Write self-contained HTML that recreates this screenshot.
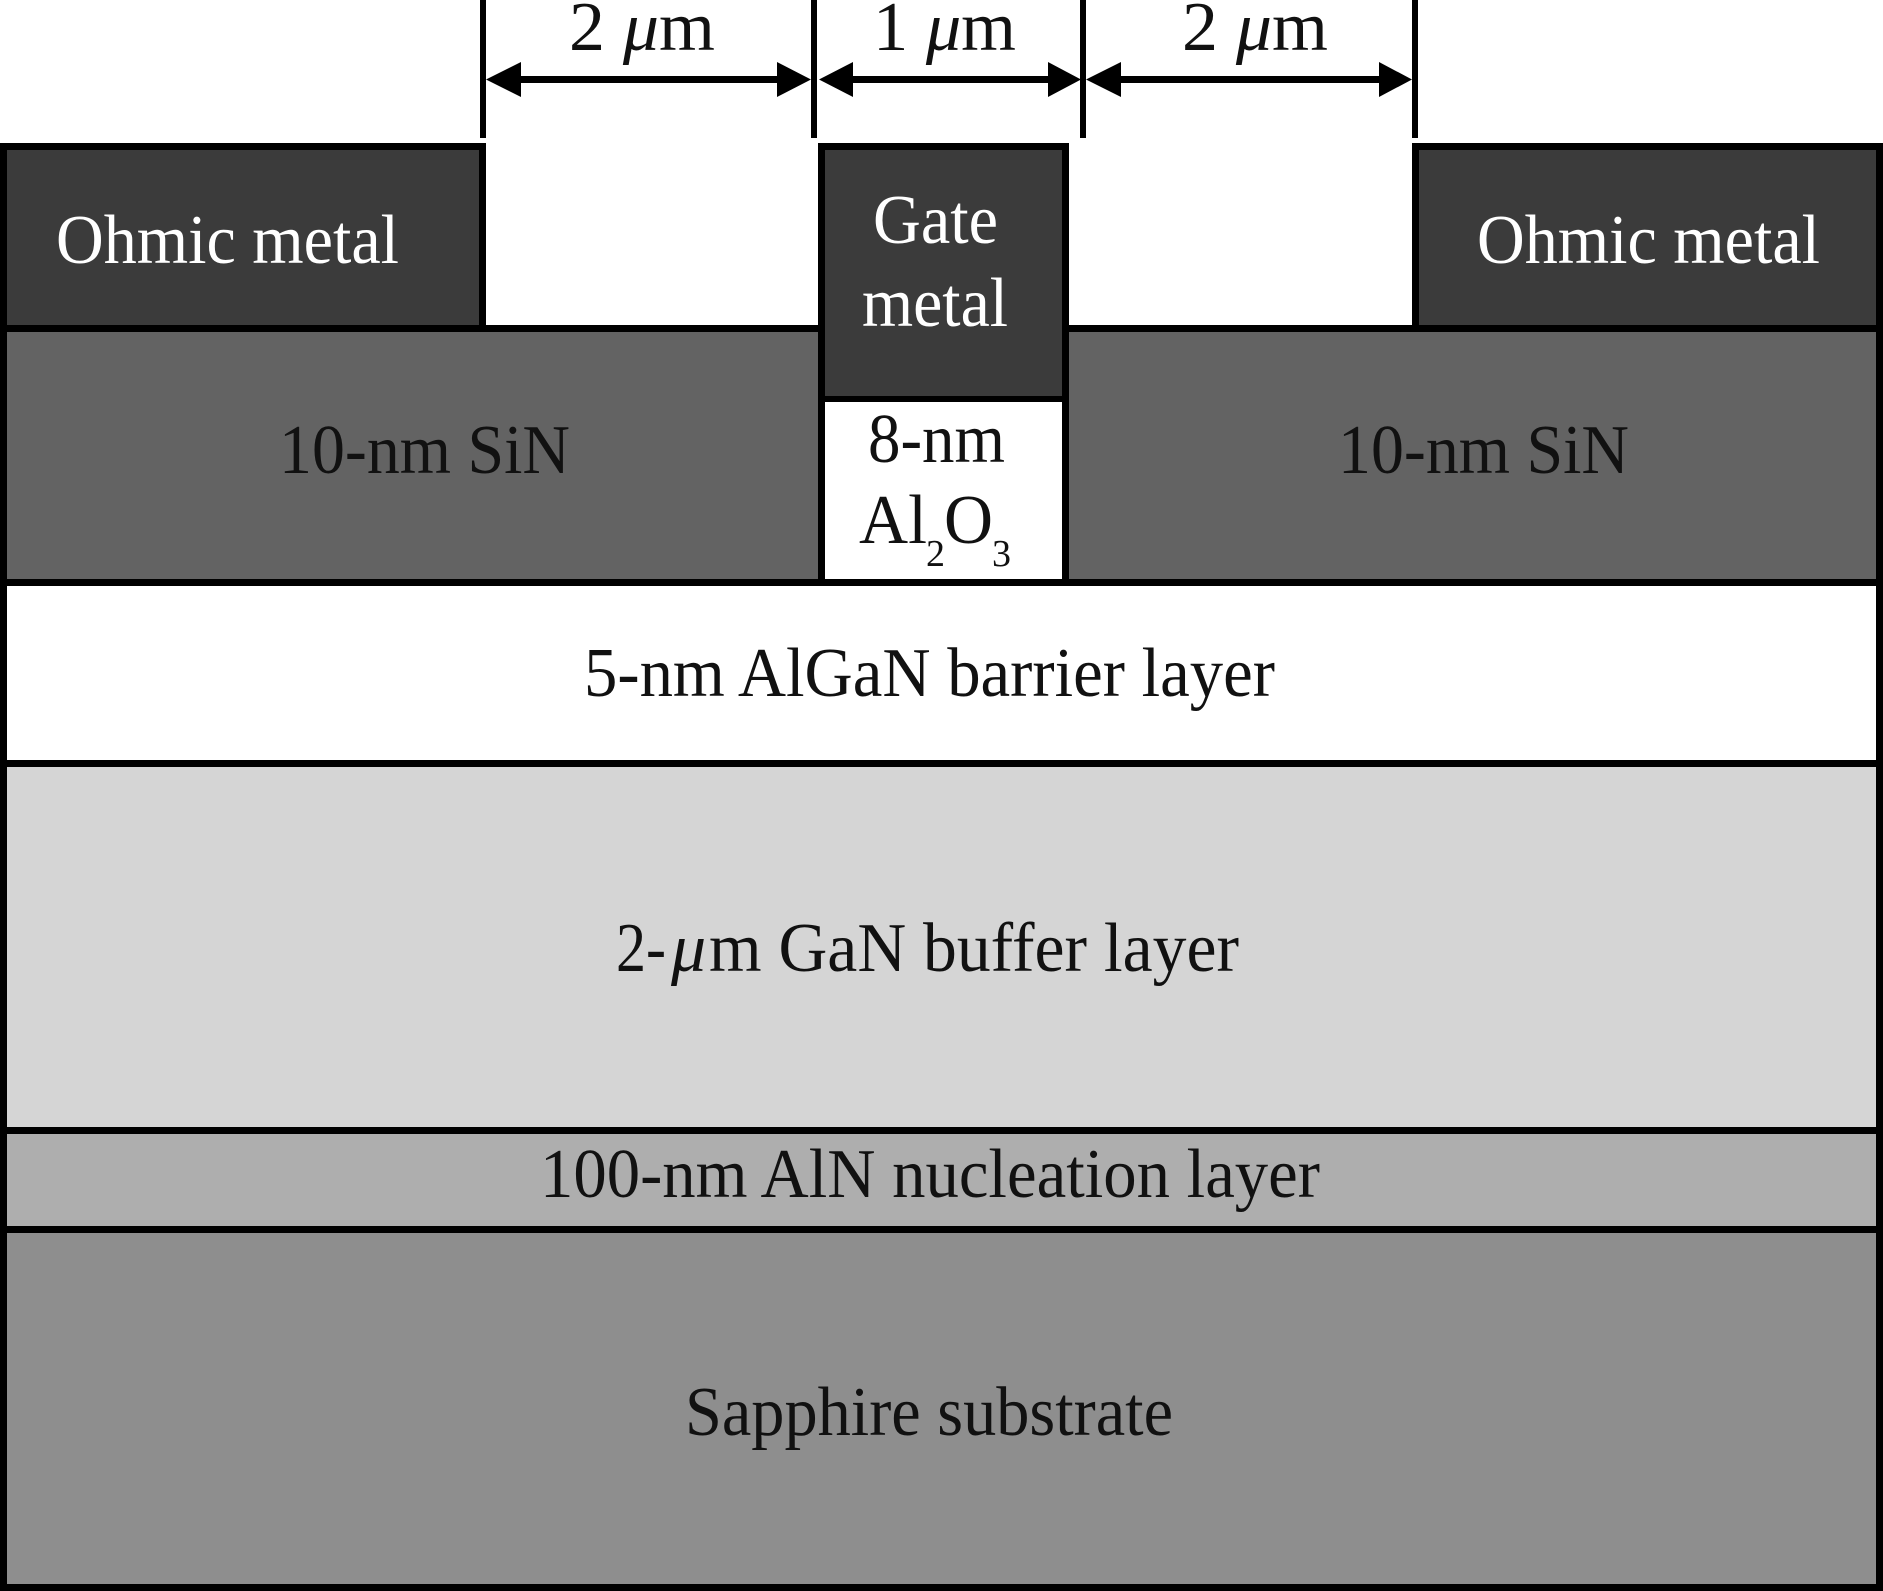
<!DOCTYPE html>
<html><head><meta charset="utf-8"><style>
html,body{margin:0;padding:0;background:#fff}
svg{display:block}
text{font-family:"Liberation Serif",serif;font-size:70px;fill:#111}
.w{fill:#fff}
.s{font-size:38px}
.i{font-style:italic}
</style></head><body>
<svg width="1883" height="1591" viewBox="0 0 1883 1591" xmlns="http://www.w3.org/2000/svg">
<rect width="1883" height="1591" fill="#fff"/>
<!-- layers -->
<rect x="0" y="325" width="1883" height="261" fill="#000"/>
<rect x="7" y="332" width="1869" height="247" fill="#636363"/>
<rect x="0" y="579" width="1883" height="1012" fill="#000"/>
<rect x="7" y="586" width="1869" height="174" fill="#fff"/>
<rect x="7" y="767" width="1869" height="360" fill="#d5d5d5"/>
<rect x="7" y="1134" width="1869" height="92" fill="#aeaeae"/>
<rect x="7" y="1233" width="1869" height="351" fill="#8e8e8e"/>
<!-- ohmic -->
<rect x="0" y="143" width="486" height="189" fill="#000"/>
<rect x="7" y="150" width="472" height="175" fill="#3b3b3b"/>
<rect x="1412" y="143" width="471" height="189" fill="#000"/>
<rect x="1419" y="150" width="457" height="175" fill="#3b3b3b"/>
<!-- gate -->
<rect x="818" y="143" width="251" height="443" fill="#000"/>
<rect x="825" y="150" width="237" height="246" fill="#3b3b3b"/>
<rect x="825" y="402" width="237" height="177" fill="#fff"/>
<!-- dimension ticks -->
<rect x="480" y="0" width="6" height="138" fill="#000"/>
<rect x="811" y="0" width="6" height="138" fill="#000"/>
<rect x="1080" y="0" width="6" height="138" fill="#000"/>
<rect x="1412" y="0" width="6" height="138" fill="#000"/>
<!-- arrows -->
<g fill="#000">
<rect x="500" y="76" width="295" height="7"/>
<polygon points="486,79.5 521,62 521,97"/><polygon points="811,79.5 777,62 777,97"/>
<rect x="835" y="76" width="230" height="7"/>
<polygon points="819,79.5 853,62 853,97"/><polygon points="1081,79.5 1048,62 1048,97"/>
<rect x="1100" y="76" width="295" height="7"/>
<polygon points="1086,79.5 1121,62 1121,97"/><polygon points="1412,79.5 1379,62 1379,97"/>
</g>
<!-- labels -->
<text x="569" y="50" textLength="146" lengthAdjust="spacingAndGlyphs">2 <tspan class="i">μ</tspan>m</text>
<text x="873" y="50" textLength="143" lengthAdjust="spacingAndGlyphs">1 <tspan class="i">μ</tspan>m</text>
<text x="1182" y="50" textLength="146" lengthAdjust="spacingAndGlyphs">2 <tspan class="i">μ</tspan>m</text>
<text class="w" x="56" y="263" textLength="343" lengthAdjust="spacingAndGlyphs">Ohmic metal</text>
<text class="w" x="1477" y="263" textLength="343" lengthAdjust="spacingAndGlyphs">Ohmic metal</text>
<text class="w" x="873" y="243" textLength="125" lengthAdjust="spacingAndGlyphs">Gate</text>
<text class="w" x="862" y="326" textLength="146" lengthAdjust="spacingAndGlyphs">metal</text>
<text x="279" y="473" textLength="291" lengthAdjust="spacingAndGlyphs">10-nm SiN</text>
<text x="1338" y="473" textLength="291" lengthAdjust="spacingAndGlyphs">10-nm SiN</text>
<text x="868" y="462" textLength="137" lengthAdjust="spacingAndGlyphs">8-nm</text>
<text x="859" y="543" textLength="68" lengthAdjust="spacingAndGlyphs">Al</text>
<text class="s" x="926" y="566">2</text>
<text x="944" y="543" textLength="49" lengthAdjust="spacingAndGlyphs">O</text>
<text class="s" x="992" y="566">3</text>
<text x="584" y="696" textLength="691" lengthAdjust="spacingAndGlyphs">5-nm AlGaN barrier layer</text>
<text x="616" y="971" textLength="50" lengthAdjust="spacingAndGlyphs">2-</text>
<text class="i" x="671" y="971">μ</text>
<text x="709" y="971" textLength="530" lengthAdjust="spacingAndGlyphs">m GaN buffer layer</text>
<text x="540" y="1197" textLength="780" lengthAdjust="spacingAndGlyphs">100-nm AlN nucleation layer</text>
<text x="685" y="1435" textLength="488" lengthAdjust="spacingAndGlyphs">Sapphire substrate</text>
</svg>
</body></html>
